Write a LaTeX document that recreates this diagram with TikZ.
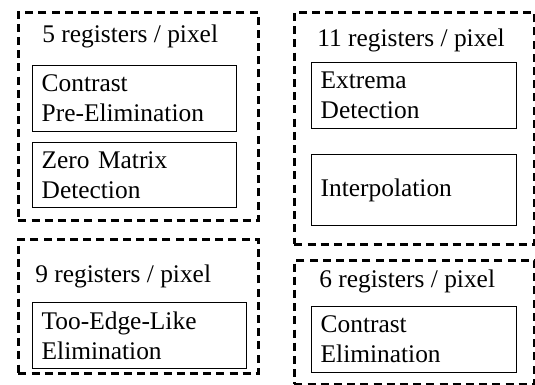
\documentclass[tikz,border=0pt]{standalone}
\usepackage{fontspec}
\setmainfont{Liberation Serif}
\newfontfamily\timesfont{Liberation Serif}
\tikzset{
    group/.style={draw, line width=1.3pt, dash pattern=on 4pt off 2.6pt, anchor=north west, inner sep=0pt, minimum width=120pt},
    stage/.style={draw, line width=0.7pt, anchor=north west, inner xsep=4.5pt, inner ysep=0pt, align=left, text width=#1},
    stage/.default=93pt,
    head/.style={anchor=base west, inner sep=0pt}
}
\begin{document}
\begin{tikzpicture}[x=0.5pt, y=-0.5pt, font=\timesfont\fontsize{12.7}{15}\selectfont]
        \useasboundingbox (0,0) rectangle (535,385);

        \node[group, minimum height=104pt] (grpA) at (17,11) {};
        \node[group, minimum height=67pt] (grpB) at (17,238) {};
        \node[group, minimum height=116pt] (grpC) at (293,11) {};
        \node[group, minimum height=62pt] (grpD) at (293,259) {};

        \node[head] (regA) at (42,43) {5 registers / pixel};
        \node[head] (regB) at (35,282) {9 registers / pixel};
        \node[head] (regC) at (317,47) {11 registers / pixel};
        \node[head] (regD) at (319,287) {6 registers / pixel};

        \node[stage, minimum height=33pt] (preelim) at (32,65) {Contrast\\Pre-Elimination};
        \node[stage, minimum height=32.5pt] (zeromat) at (32,142) {Zero Matrix\\Detection};
        \node[stage=98pt, minimum height=33pt] (edgelike) at (32,302) {Too-Edge-Like\\Elimination};
        \node[stage=93.5pt, minimum height=33pt] (extrema) at (311,62) {Extrema\\Detection};
        \node[stage=93.5pt, minimum height=35.5pt] (interp) at (311,154) {Interpolation};
        \node[stage=93.5pt, minimum height=33pt] (contrast) at (311,306) {Contrast\\Elimination};
    \end{tikzpicture}
\end{document}
